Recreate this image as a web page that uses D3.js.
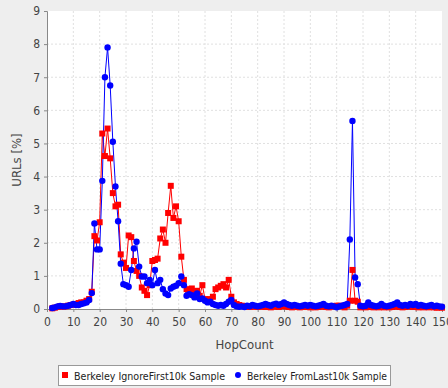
<!DOCTYPE html>
<html>
<head>
<meta charset="utf-8">
<script src="https://cdn.jsdelivr.net/npm/d3@7"></script>
<style>
  body { margin: 0; background: #eeeeee; }
  text { font-family: "DejaVu Sans Condensed", "DejaVu Sans", sans-serif; font-stretch: condensed; }
</style>
</head>
<body>
<div class="canvas1"></div>
<script>
// data: hop counts 2..150
const firstHop = 2;
const ignoreFirst10k = [
  0.02, 0.04, 0.06, 0.08, 0.07, 0.08, 0.1, 0.12, 0.13, 0.15, 0.18, 0.2, 0.2, 0.25, 0.3,     // 2-16
  0.52, 2.2, 2.07, 2.62, 5.3, 4.62, 5.45, 4.55, 3.5, 3.1, 3.15, 1.65, 1.4, 1.24,           // 17-30
  2.22, 2.17, 1.45, 1.15, 1.0, 0.65, 0.55, 0.42, 0.72, 1.45,                              // 31-40
  1.48, 1.52, 2.13, 2.4, 2.0, 2.9, 3.72, 2.75, 3.1, 2.65,                                 // 41-50
  1.58, 0.88, 0.6, 0.5, 0.62, 0.45, 0.55, 0.4, 0.72, 0.3,                                 // 51-60
  0.25, 0.3, 0.37, 0.6, 0.65, 0.7, 0.75, 0.65, 0.88, 0.37,                                // 61-70
  0.2, 0.15, 0.12, 0.1, 0.08, 0.07, 0.06, 0.08, 0.07, 0.06,                               // 71-80
  0.07, 0.08, 0.06, 0.07, 0.05, 0.08, 0.07, 0.06, 0.08, 0.1,                              // 81-90
  0.07, 0.06, 0.05, 0.07, 0.06, 0.05, 0.06, 0.07, 0.06, 0.05,                             // 91-100
  0.06, 0.05, 0.06, 0.07, 0.08, 0.06, 0.05, 0.07, 0.09, 0.1,                              // 101-110
  0.1, 0.08, 0.05, 0.1, 0.25, 1.18, 0.25, 0.22, 0.05, 0.06,                               // 111-120
  0.05, 0.08, 0.06, 0.05, 0.06, 0.05, 0.07, 0.05, 0.06, 0.05,                             // 121-130
  0.06, 0.07, 0.08, 0.06, 0.05, 0.06, 0.07, 0.08, 0.06, 0.07,                             // 131-140
  0.05, 0.06, 0.05, 0.06, 0.05, 0.06, 0.05, 0.04, 0.05, 0.04                              // 141-150
];
const fromLast10k = [
  0.03, 0.05, 0.08, 0.09, 0.08, 0.08, 0.1, 0.12, 0.15, 0.12, 0.12, 0.15, 0.17, 0.2, 0.27,  // 2-16
  0.48, 2.58, 1.8, 1.8, 3.87, 7.0, 7.9, 6.75, 5.05, 3.7, 2.65, 1.37, 0.75, 0.72,           // 17-30
  0.67, 1.18, 1.83, 2.03, 1.28, 0.98, 0.98, 0.78, 0.88, 0.72,                             // 31-40
  1.18, 0.78, 0.88, 0.6, 0.47, 0.42, 0.62, 0.67, 0.7, 0.78,                               // 41-50
  0.98, 0.72, 0.4, 0.45, 0.42, 0.35, 0.47, 0.3, 0.32, 0.25,                               // 51-60
  0.2, 0.22, 0.15, 0.12, 0.1, 0.12, 0.1, 0.15, 0.22, 0.27,                                // 61-70
  0.12, 0.08, 0.07, 0.08, 0.06, 0.1, 0.08, 0.12, 0.1, 0.08,                               // 71-80
  0.1, 0.12, 0.15, 0.12, 0.1, 0.14, 0.16, 0.12, 0.15, 0.2,                                // 81-90
  0.15, 0.12, 0.1, 0.12, 0.1, 0.08, 0.1, 0.12, 0.1, 0.12,                                 // 91-100
  0.1, 0.08, 0.1, 0.12, 0.15, 0.1, 0.08, 0.1, 0.08, 0.05,                                 // 101-110
  0.08, 0.1, 0.12, 0.15, 2.1, 5.68, 0.95, 0.75, 0.1, 0.08,                                // 111-120
  0.1, 0.2, 0.12, 0.1, 0.08, 0.1, 0.15, 0.1, 0.08, 0.1,                                   // 121-130
  0.12, 0.15, 0.2, 0.12, 0.1, 0.12, 0.1, 0.15, 0.12, 0.15,                                // 131-140
  0.1, 0.12, 0.1, 0.08, 0.1, 0.12, 0.08, 0.1, 0.08, 0.07                                  // 141-150
];
const xTicks = d3.range(0, 151, 10);
const yTicks = d3.range(0, 10, 1);

const margin = { top: 11, right: 6, bottom: 79, left: 47 };
const width = 448 - margin.left - margin.right;
const height = 388 - margin.top - margin.bottom;

const svg = d3.select(".canvas1").append("svg")
    .attr("width", 448)
    .attr("height", 388);
const g = svg.append("g")
    .attr("transform", "translate(" + margin.left + "," + margin.top + ")");

const x = d3.scaleLinear().domain([0, 150]).range([0, width]);
const y = d3.scaleLinear().domain([0, 9]).range([height, 0]);

// plot background
g.append("rect").attr("width", width).attr("height", height).attr("fill", "#fff");

// grid
g.selectAll(".vgrid").data(xTicks.slice(1, -1)).enter().append("line")
    .attr("x1", d => x(d)).attr("x2", d => x(d))
    .attr("y1", 0).attr("y2", height)
    .attr("stroke", "#e0e0e0").attr("stroke-dasharray", "2,2");
g.selectAll(".hgrid").data(yTicks.slice(1, -1)).enter().append("line")
    .attr("y1", d => y(d)).attr("y2", d => y(d))
    .attr("x1", 0).attr("x2", width)
    .attr("stroke", "#e0e0e0").attr("stroke-dasharray", "2,2");

// axes
const xAxis = g.append("g")
    .attr("transform", "translate(0," + height + ")")
    .call(d3.axisBottom(x).tickValues(xTicks).tickSize(3).tickPadding(5));
const yAxis = g.append("g")
    .call(d3.axisLeft(y).tickValues(yTicks).tickSize(3).tickPadding(4));
[xAxis, yAxis].forEach(a => {
  a.select(".domain").attr("stroke", "#888");
  a.selectAll(".tick line").attr("stroke", "#888");
  a.selectAll(".tick text").attr("fill", "#444").style("font-size", "12px")
      .style("font-family", "'DejaVu Sans Condensed', 'DejaVu Sans', sans-serif");
});

// axis labels
svg.append("text")
    .attr("x", margin.left + width / 2).attr("y", 349)
    .attr("text-anchor", "middle").attr("fill", "#444")
    .style("font-size", "13px")
    .text("HopCount");
svg.append("text")
    .attr("transform", "rotate(-90)")
    .attr("x", -(margin.top + height / 2)).attr("y", 21)
    .attr("text-anchor", "middle").attr("fill", "#444")
    .style("font-size", "13px")
    .text("URLs [%]");

const toPts = arr => arr.map((v, i) => ({ h: firstHop + i, v: v }));
const redData = toPts(ignoreFirst10k);
const blueData = toPts(fromLast10k);

const line = d3.line().x(d => x(d.h)).y(d => y(d.v));

g.append("path").datum(redData)
    .attr("fill", "none").attr("stroke", "#ff0000").attr("stroke-width", 1)
    .attr("d", line);
g.append("path").datum(blueData)
    .attr("fill", "none").attr("stroke", "#0000ff").attr("stroke-width", 1)
    .attr("d", line);

g.selectAll(".red").data(redData).enter().append("rect")
    .attr("x", d => x(d.h) - 3).attr("y", d => y(d.v) - 3)
    .attr("width", 6).attr("height", 6)
    .attr("fill", "#ff0000");
g.selectAll(".blue").data(blueData).enter().append("circle")
    .attr("cx", d => x(d.h)).attr("cy", d => y(d.v))
    .attr("r", 3.2)
    .attr("fill", "#0000ff");

// legend
const legend = svg.append("g");
legend.append("rect")
    .attr("x", 58.5).attr("y", 365.5).attr("width", 332).attr("height", 20)
    .attr("fill", "#fff").attr("stroke", "#999");
legend.append("rect").attr("x", 62).attr("y", 372).attr("width", 6).attr("height", 6).attr("fill", "#ff0000");
legend.append("text").attr("x", 74).attr("y", 379.5).attr("fill", "#222")
    .style("font-size", "11px")
    .attr("textLength", 151).attr("lengthAdjust", "spacingAndGlyphs")
    .text("Berkeley IgnoreFirst10k Sample");
legend.append("circle").attr("cx", 238).attr("cy", 375).attr("r", 3).attr("fill", "#0000ff");
legend.append("text").attr("x", 247).attr("y", 379.5).attr("fill", "#222")
    .style("font-size", "11px")
    .attr("textLength", 140).attr("lengthAdjust", "spacingAndGlyphs")
    .text("Berkeley FromLast10k Sample");
</script>
</body>
</html>
